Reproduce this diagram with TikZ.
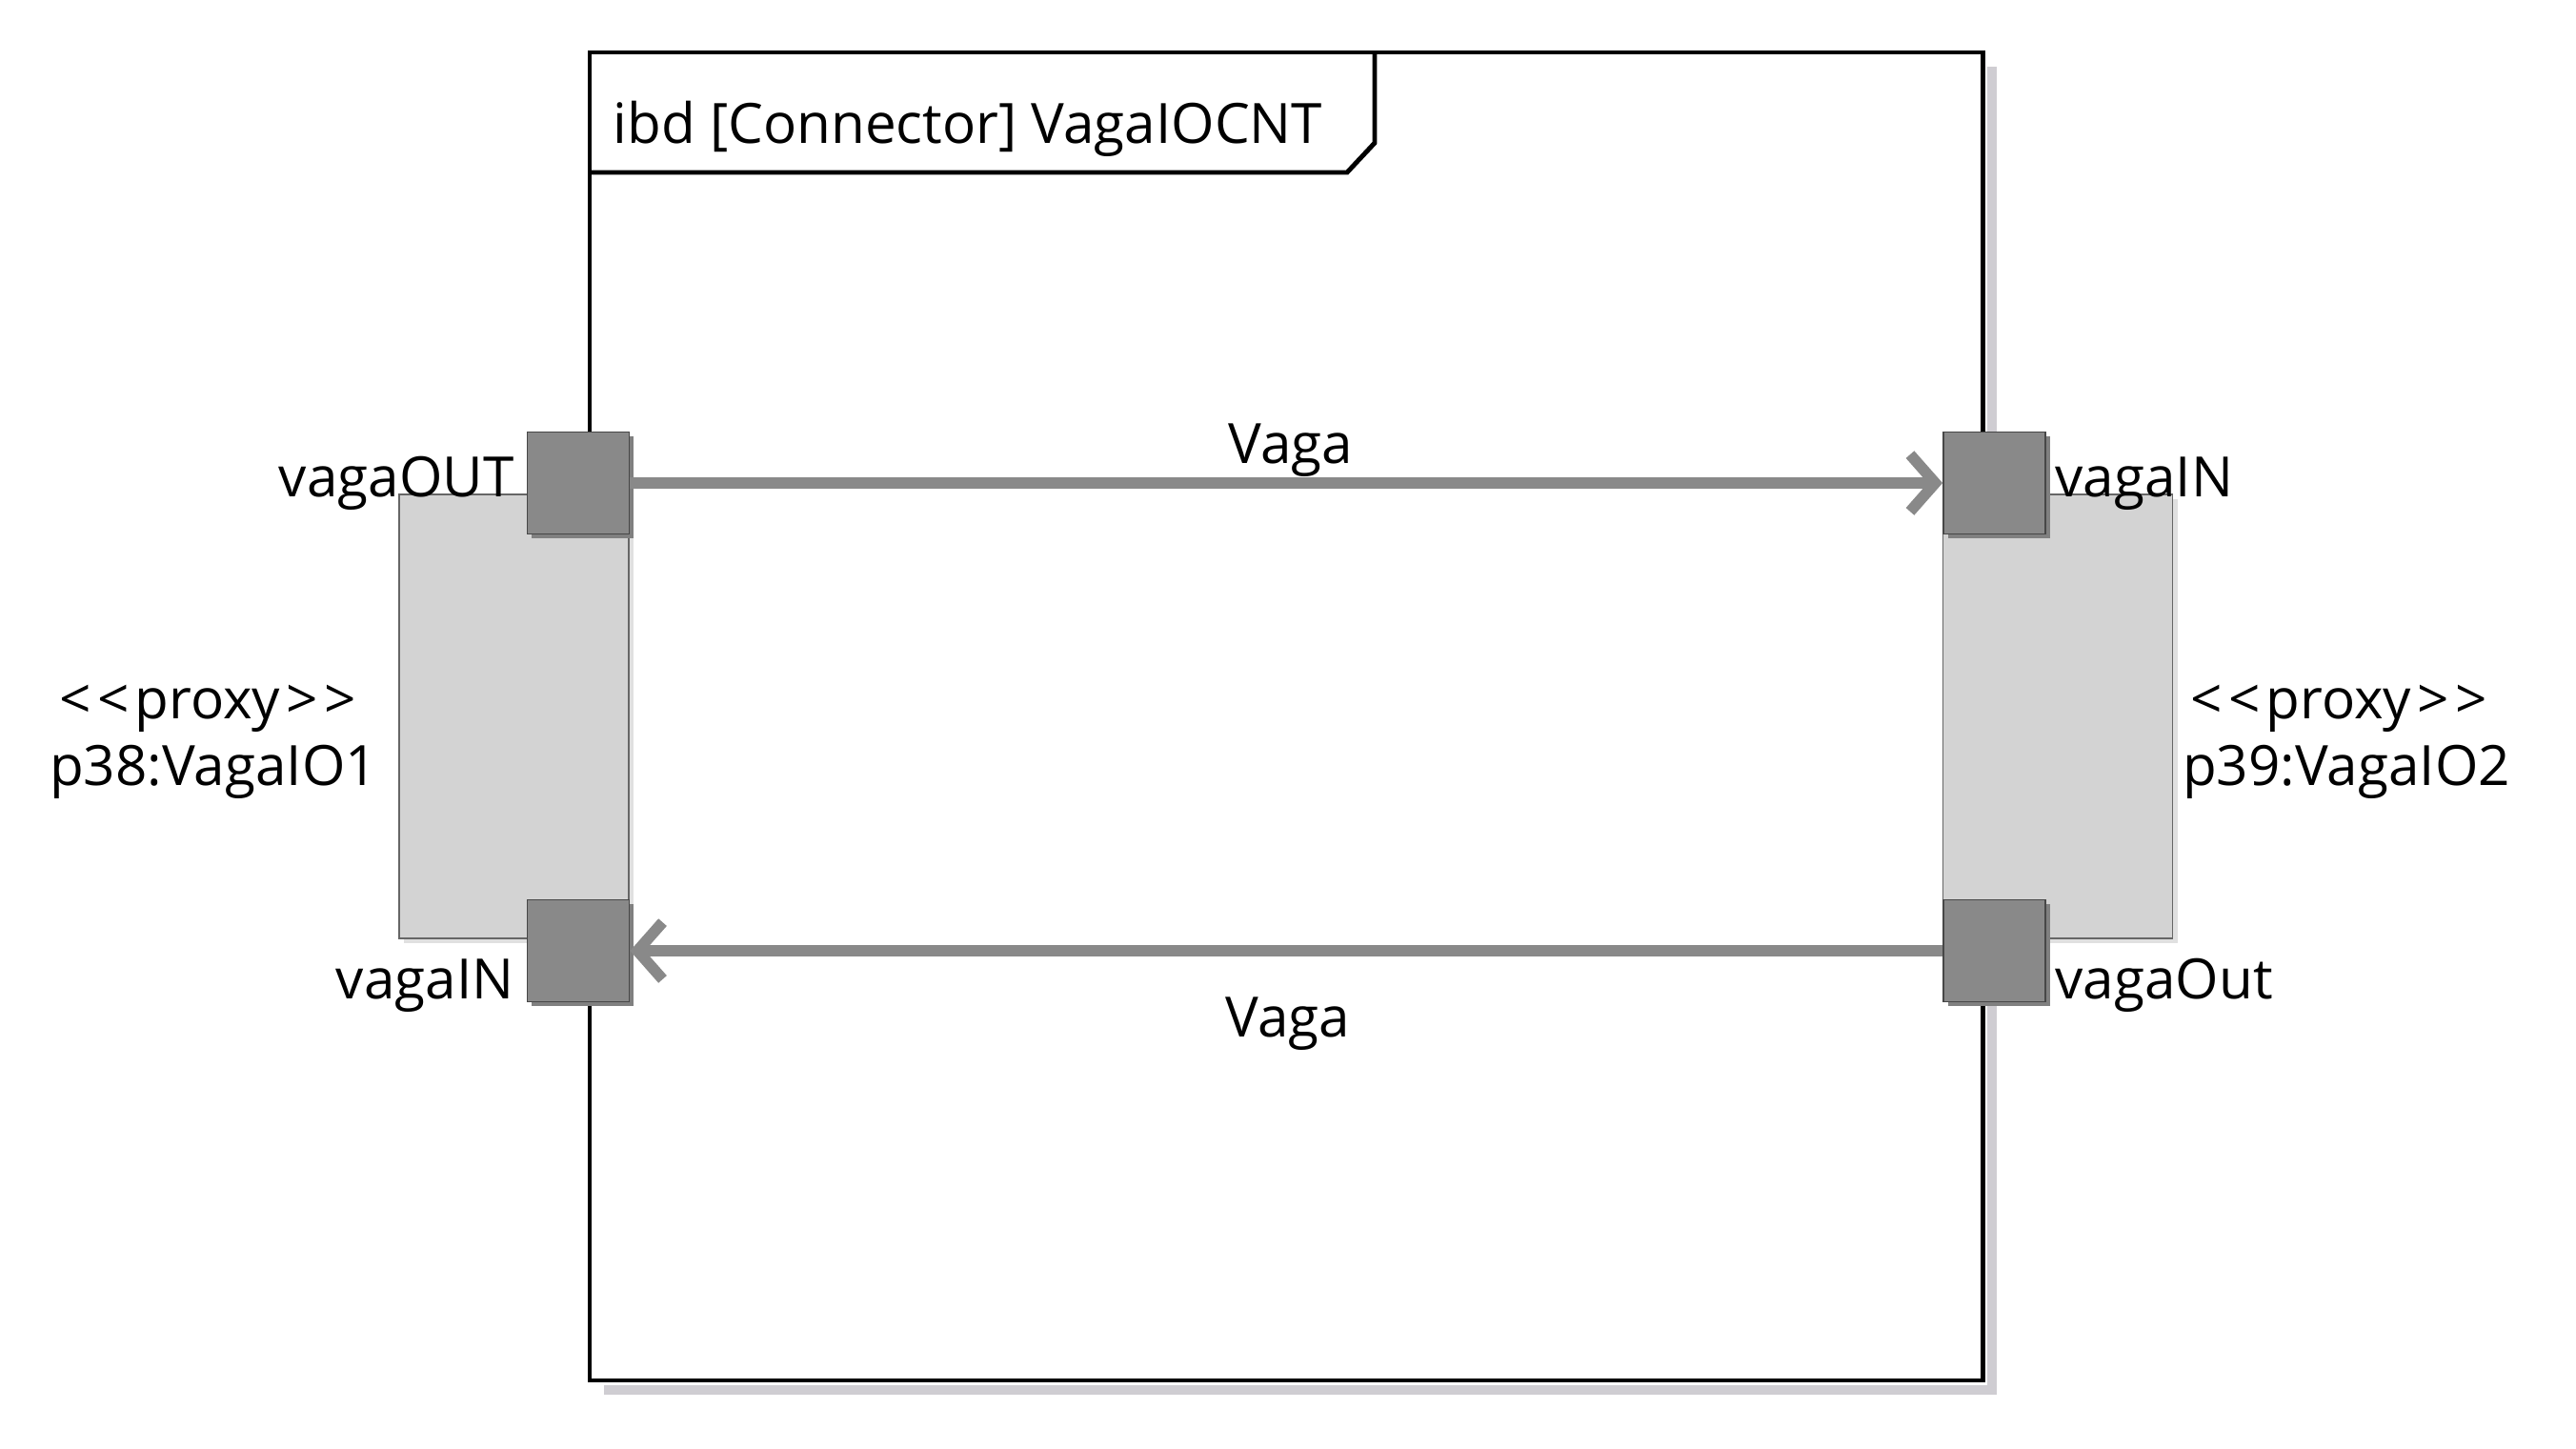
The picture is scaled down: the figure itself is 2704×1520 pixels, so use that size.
\documentclass[tikz,border=0pt]{standalone}
\usepackage{fontspec}
\setmainfont{Open Sans}[Ligatures=TeXOff]
\usetikzlibrary{arrows.meta,shadows}
\definecolor{portgray}{HTML}{898989}
\definecolor{partgray}{HTML}{D3D3D3}
\definecolor{shadowgray}{HTML}{CFCDD2}
\newcommand{\stereoproxy}{<\kern1.8pt<\kern1.8pt proxy\kern1.8pt>\kern1.8pt>}
\begin{document}
\begin{tikzpicture}[x=0.01cm,y=-0.01cm,
  lbl/.style={font=\fontsize{16.6}{20}\selectfont, inner sep=0pt},
  partbox/.style={draw=black!60, fill=partgray, line width=0.5pt, minimum width=2.41cm, minimum height=4.66cm,
    general shadow={fill=black!12, shadow xshift=1.4pt, shadow yshift=-1.4pt}},
  portbox/.style={draw=black!72, fill=portgray, line width=0.5pt, minimum size=1.07cm, inner sep=0pt,
    general shadow={fill=black!50, shadow xshift=1.4pt, shadow yshift=-1.4pt}},
  conn/.style={draw=portgray, line width=3.3pt, -{Straight Barb[length=7.5pt,width=17pt,line width=3.3pt]}},
  framepen/.style={line width=1.4pt, draw=black}
]
\useasboundingbox (0,0) rectangle (2704,1520);
% frame shadow
\draw[draw=shadowgray, line width=2.8pt] (2091,70) -- (2091,1459) -- (634,1459);
% frame
\draw[framepen, fill=white] (619,55) rectangle (2081,1449);
\draw[framepen] (619,181) -- (1414,181) -- (1443,150) -- (1443,55);
\node[lbl, anchor=base west] (title) at (643,150) {ibd [Connector] VagaIOCNT};
% parts
\node[partbox] (p38) at (539.5,752) {};
\node[partbox] (p39) at (2160,752) {};
% ports
\node[portbox] (lout) at (607,507) {};
\node[portbox] (lin) at (607,998) {};
\node[portbox] (rin) at (2093.5,507) {};
\node[portbox] (rout) at (2093.5,998) {};
% connectors
\draw[conn] (lout.east) -- (rin.west);
\draw[conn] (rout.west) -- (lin.east);
\node[lbl, anchor=base] (vaga1) at (1355,486) {Vaga};
\node[lbl, anchor=base] (vaga2) at (1352,1088) {Vaga};
% port labels
\node[lbl, anchor=base east] (l1) at (540,521) {vagaOUT};
\node[lbl, anchor=base east] (l2) at (540,1048) {vagaIN};
\node[lbl, anchor=base west] (l3) at (2157,521) {vagaIN};
\node[lbl, anchor=base west] (l4) at (2157,1048) {vagaOut};
% part labels
\node[lbl, anchor=base] (s1) at (218,754) {\stereoproxy};
\node[lbl, anchor=base] (n1) at (224,824) {p38:VagaIO1};
\node[lbl, anchor=base] (s2) at (2455,754) {\stereoproxy};
\node[lbl, anchor=base] (n2) at (2463,824) {p39:VagaIO2};
\end{tikzpicture}
\end{document}
